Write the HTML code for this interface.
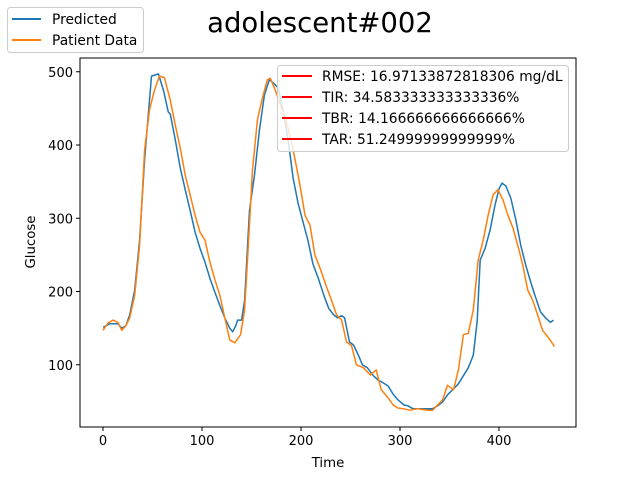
<!DOCTYPE html>
<html><head><meta charset="utf-8"><style>
body{margin:0;background:#fff;}
svg{display:block;font-family:"DejaVu Sans","Liberation Sans",sans-serif;}
</style></head><body>
<svg id="chart" width="640" height="480" viewBox="0 0 640 480">
<rect width="640" height="480" fill="#fff"/>
<text x="320" y="32" font-size="27.5" text-anchor="middle">adolescent#002</text>
<g id="plot"></g>
<rect x="80" y="58" width="496" height="369" fill="none" stroke="#000" stroke-width="1"/>
<g id="ticks"></g>
<text x="328" y="467" font-size="13.3" text-anchor="middle">Time</text>
<text x="35" y="242" font-size="13.3" text-anchor="middle" transform="rotate(-90 35 242)">Glucose</text>
<g>
<rect x="277.5" y="65.5" width="291" height="86" rx="3" fill="#fff" fill-opacity="0.8" stroke="#ccc"/>
<line x1="282" y1="76" x2="312" y2="76" stroke="red" stroke-width="2"/>
<text x="322" y="81" font-size="13.8">RMSE: 16.97133872818306 mg/dL</text>
<line x1="282" y1="97" x2="312" y2="97" stroke="red" stroke-width="2"/>
<text x="322" y="102" font-size="13.8">TIR: 34.583333333333336%</text>
<line x1="282" y1="118" x2="312" y2="118" stroke="red" stroke-width="2"/>
<text x="322" y="123" font-size="13.8">TBR: 14.166666666666666%</text>
<line x1="282" y1="139" x2="312" y2="139" stroke="red" stroke-width="2"/>
<text x="322" y="144" font-size="13.8">TAR: 51.24999999999999%</text>
</g>
<g>
<rect x="7.5" y="7.5" width="136" height="45" rx="3" fill="#fff" fill-opacity="0.8" stroke="#ccc"/>
<line x1="12" y1="19" x2="41" y2="19" stroke="#1f77b4" stroke-width="2"/>
<text x="52" y="24" font-size="13.8">Predicted</text>
<line x1="12" y1="40" x2="41" y2="40" stroke="#ff7f0e" stroke-width="2"/>
<text x="52" y="45" font-size="13.8">Patient Data</text>
</g>
</svg>
<script>
const xTicks=[0,100,200,300,400];
const yTicks=[100,200,300,400,500];
const predT=[0,7,15,19,23,27,32,37,42,47,49,56,61,66,68,73,78,83,88,93,98,103,108,113,118,123,128,131,134,136,140,143,148,153,158,163,168,171,177,182,187,192,197,202,207,212,218,223,228,233,237,241,244,249,253,258,262,267,273,278,282,288,293,298,304,308,313,323,333,338,343,348,354,359,364,369,374,378,381,386,391,396,400,403,407,412,417,422,427,432,437,442,447,452,455];
const predG=[151,156,156,150,153,168,202,270,380,461,494,497,475,445,442,407,369,339,311,281,259,240,218,199,181,164,150,145,153,161,161,188,311,359,420,468,489,486,478,445,407,355,321,295,270,238,216,195,177,168,164,167,164,131,127,113,100,96,85,79,76,71,60,52,45,44,40,40,40,44,49,59,67,74,85,96,113,160,243,259,284,318,340,348,344,327,298,263,236,213,192,172,164,158,161];
const patT=[0,5,10,15,19,23,27,32,37,42,47,52,57,62,68,73,78,83,88,93,98,103,108,113,118,123,128,133,139,143,146,151,156,161,166,169,174,179,184,190,195,199,204,209,214,220,225,230,236,241,246,251,256,263,270,276,281,288,293,298,303,310,318,328,333,338,343,348,354,359,364,369,374,379,384,389,394,399,404,409,414,419,424,429,434,439,444,451,456];
const patG=[147,157,161,158,147,153,164,195,263,393,448,475,494,492,461,427,396,359,332,304,281,270,240,216,195,164,134,130,141,175,243,366,434,464,489,491,475,455,437,407,373,345,304,291,250,229,209,191,168,161,131,126,100,96,86,93,66,55,45,41,40,38,40,38,38,45,52,72,66,93,141,143,175,243,270,304,332,339,325,304,287,263,236,202,188,168,147,135,125];
const NS='http://www.w3.org/2000/svg';
const X0=80,X1=576,Y0=58,Y1=427;
function xs(v){return 103+v*0.99;}
function ys(v){return 438-v*0.7325;}
const plot=document.getElementById('plot');
const tk=document.getElementById('ticks');
function mk(tag,attrs,parent){const e=document.createElementNS(NS,tag);for(const k in attrs)e.setAttribute(k,attrs[k]);parent.appendChild(e);return e;}
xTicks.forEach(v=>{
  const x=xs(v);
  const l=mk('line',{x1:x,y1:Y1,x2:x,y2:Y1+4,stroke:'#000'},tk);
  
  
  const t=mk('text',{x:x,y:Y1+18,'font-size':13,'text-anchor':'middle'},tk);
  t.textContent=v;
  
  
});
yTicks.forEach(v=>{
  const y=ys(v);
  const l=mk('line',{x1:X0-4,y1:y,x2:X0,y2:y,stroke:'#000'},tk);
  
  
  const t=mk('text',{x:X0-7,y:y+5,'font-size':13,'text-anchor':'end'},tk);
  t.textContent=v;
  
  
});
function line(T,G,color,name){
  const d=T.map((t,i)=>(i?'L':'M')+xs(t).toFixed(1)+' '+ys(G[i]).toFixed(1)).join(' ');
  const p=mk('path',{d:d,fill:'none',stroke:color,'stroke-width':1.5,'stroke-linejoin':'round'},plot);
  
  
}
line(predT,predG,'#1f77b4','predicted-line');
line(patT,patG,'#ff7f0e','patient-data-line');
</script>
</body></html>
